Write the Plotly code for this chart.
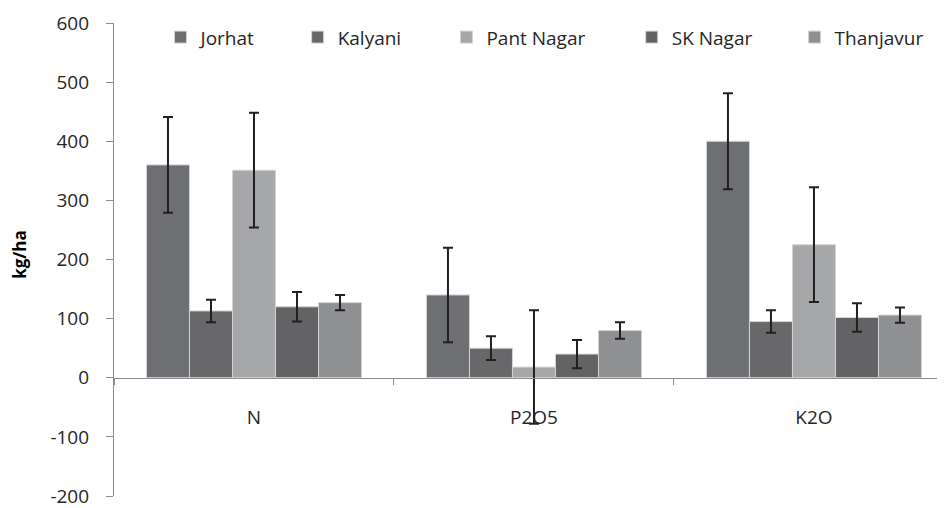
import plotly.graph_objects as go

categories = ["N", "P2O5", "K2O"]
series_names = ["Jorhat", "Kalyani", "Pant Nagar", "SK Nagar", "Thanjavur"]
jorhat = [360, 140, 400]
kalyani = [113, 50, 95]
pant_nagar = [351, 18, 225]
sk_nagar = [120, 40, 102]
thanjavur = [127, 80, 106]
jorhat_err = [81, 80, 81]
kalyani_err = [19, 20, 19]
pant_nagar_err = [97, 96, 97]
sk_nagar_err = [25, 24, 24]
thanjavur_err = [13, 14, 13]
y_tick_values = [-200, -100, 0, 100, 200, 300, 400, 500, 600]
y_tick_labels = ["-200", "-100", "0", "100", "200", "300", "400", "500", "600"]

values = [jorhat, kalyani, pant_nagar, sk_nagar, thanjavur]
errors = [jorhat_err, kalyani_err, pant_nagar_err, sk_nagar_err, thanjavur_err]
colors = ["#6e6f72", "#68686b", "#a6a7a9", "#636365", "#8f9092"]
legend_ids = ["legend", "legend2", "legend3", "legend4", "legend5"]
legend_x = [0.056, 0.221, 0.400, 0.623, 0.819]

FONT = "Open Sans"
TXT = "#262626"
Y_MIN, Y_MAX = -200, 600

fig = go.Figure()
for name, v, e, c, lg in zip(series_names, values, errors, colors, legend_ids):
    fig.add_trace(go.Bar(
        x=categories, y=v, name=name, legend=lg,
        marker=dict(color=c, line=dict(color="#d4d4d4", width=1)),
        error_y=dict(type="data", array=e, visible=True, color="#231f20",
                     thickness=2, width=5),
    ))

legends = {}
for lg, lx in zip(legend_ids, legend_x):
    legends[lg] = dict(orientation="h", x=lx, y=1.01, xanchor="left", yanchor="top",
                       font=dict(family=FONT, size=19, color=TXT),
                       bgcolor="rgba(0,0,0,0)", borderwidth=0)

fig.update_layout(
    width=937, height=500,
    margin=dict(l=106, r=0, t=15, b=12, autoexpand=False),
    paper_bgcolor="white", plot_bgcolor="white",
    barmode="group", bargap=0.232, bargroupgap=0,
    font=dict(family=FONT, size=19, color=TXT),
    showlegend=True,
    xaxis=dict(
        range=[-0.5, 2.468], anchor="free", position=-Y_MIN / (Y_MAX - Y_MIN),
        automargin=False,
        showline=True, linecolor="#8c8c8c", linewidth=1.2,
        ticks="outside", tickson="boundaries", ticklen=6, tickcolor="#8c8c8c",
        showgrid=False, zeroline=False, ticklabelstandoff=22,
        tickfont=dict(family=FONT, size=19, color=TXT),
    ),
    yaxis=dict(
        range=[Y_MIN, Y_MAX], tickmode="array", tickvals=y_tick_values,
        ticktext=y_tick_labels, domain=[0, 1], automargin=False,
        ticklabeloverflow="allow",
        showline=True, linecolor="#8c8c8c", linewidth=1.2,
        ticks="outside", ticklen=7, tickcolor="#8c8c8c",
        showgrid=False, zeroline=False, ticklabelstandoff=13,
        tickfont=dict(family=FONT, size=19, color=TXT),
    ),
    annotations=[dict(
        text="<b>kg/ha</b>", xref="paper", yref="paper", x=-0.113, y=0.51,
        textangle=-90, showarrow=False, xanchor="center", yanchor="middle",
        font=dict(family=FONT, size=17, color="#000000"),
    )],
    **legends,
)

fig.write_html("out.html")
